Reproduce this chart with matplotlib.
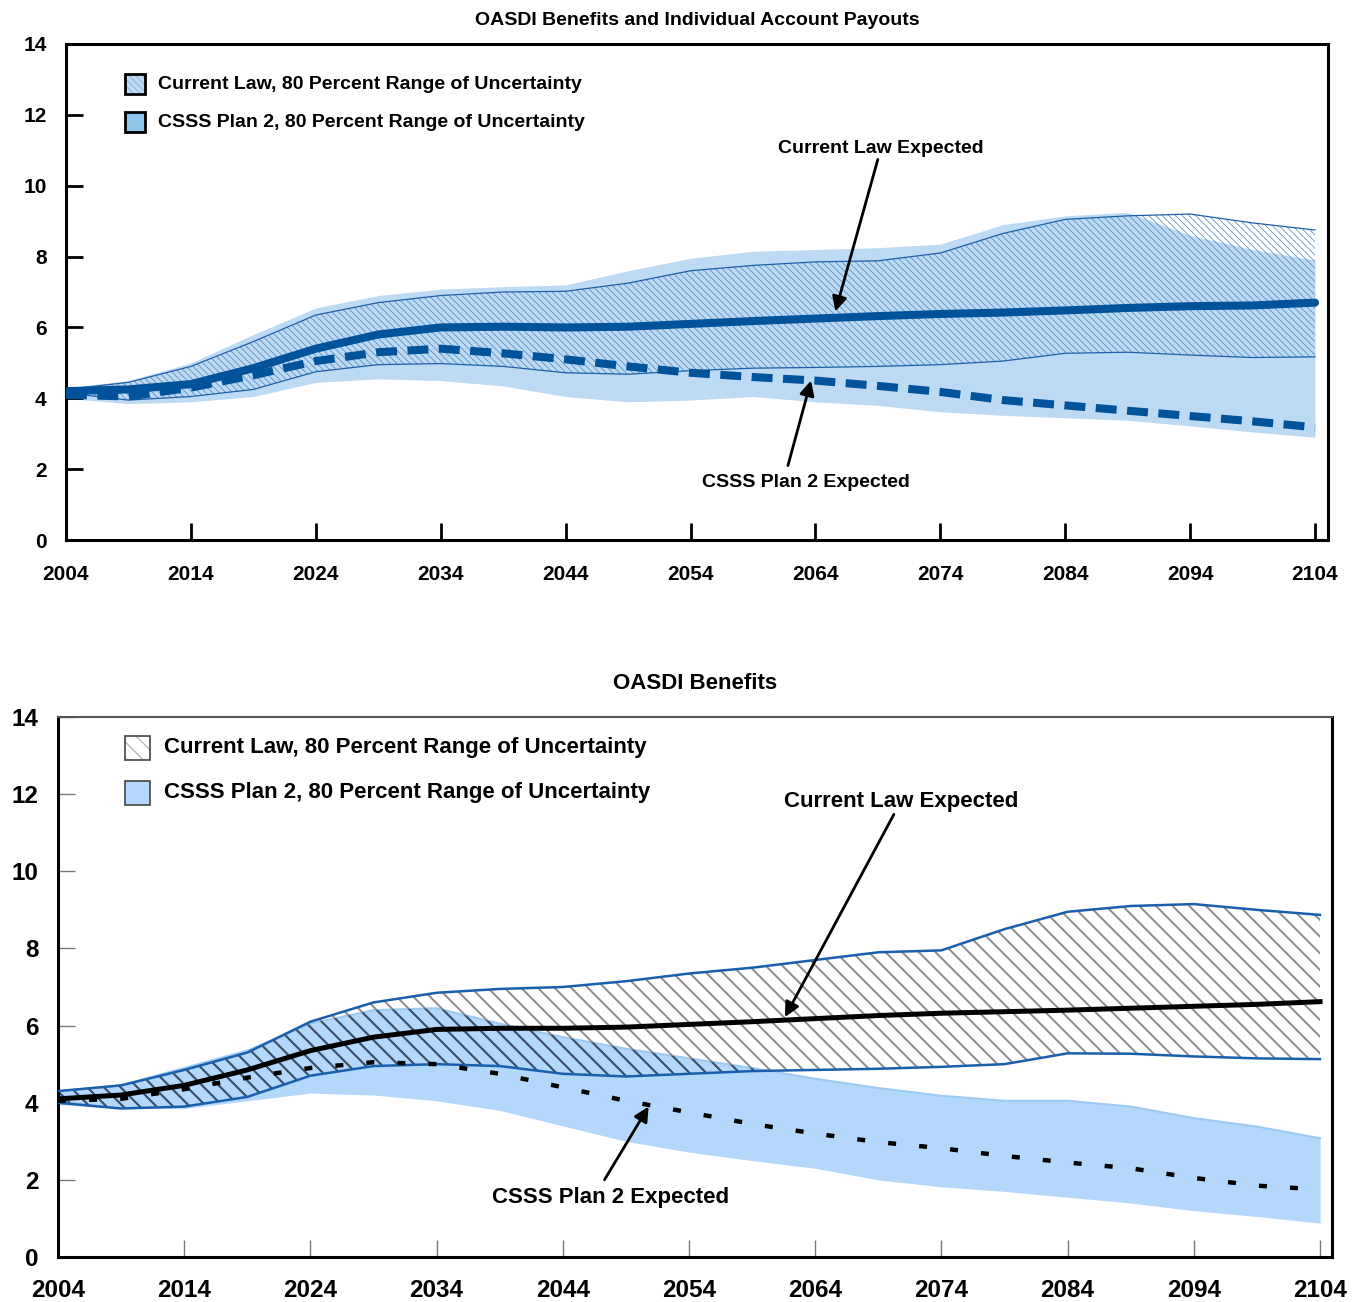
import numpy as np
import matplotlib
matplotlib.use("Agg")
import matplotlib.pyplot as plt
from matplotlib.patches import Rectangle

plt.rcParams['font.family'] = ['Liberation Sans', 'DejaVu Sans']
plt.rcParams['font.weight'] = 'bold'

years = np.arange(2004, 2105, 5)
xticks = np.arange(2004, 2105, 10)
yticks = np.arange(0, 15, 2)

# --- OASDI benefits and individual account payouts (percent) ---
top_cl_expected = [4.2, 4.25, 4.4, 4.85, 5.4, 5.8, 6.0, 6.02, 6.0, 6.02, 6.1,
                   6.18, 6.25, 6.32, 6.38, 6.42, 6.48, 6.55, 6.6, 6.62, 6.7]
top_plan_expected = [4.1, 4.05, 4.3, 4.65, 5.05, 5.3, 5.4, 5.27, 5.1, 4.9, 4.72,
                     4.6, 4.5, 4.35, 4.18, 3.95, 3.8, 3.65, 3.5, 3.35, 3.18]
top_cl_hi = [4.25, 4.45, 4.9, 5.6, 6.35, 6.7, 6.9, 7.0, 7.02, 7.25, 7.6,
             7.75, 7.85, 7.88, 8.1, 8.65, 9.05, 9.15, 9.2, 8.95, 8.75]
top_cl_lo = [4.15, 3.95, 4.05, 4.25, 4.75, 4.95, 4.98, 4.9, 4.72, 4.68, 4.78,
             4.85, 4.87, 4.9, 4.95, 5.05, 5.27, 5.3, 5.22, 5.15, 5.17]
top_plan_hi = [4.3, 4.5, 5.0, 5.8, 6.55, 6.9, 7.08, 7.15, 7.2, 7.6, 7.95,
               8.15, 8.2, 8.25, 8.35, 8.9, 9.15, 9.25, 8.6, 8.2, 7.9]
top_plan_lo = [4.0, 3.85, 3.9, 4.05, 4.45, 4.55, 4.5, 4.35, 4.05, 3.9, 3.95,
               4.05, 3.9, 3.8, 3.62, 3.52, 3.45, 3.38, 3.22, 3.05, 2.9]

# --- OASDI benefits only (percent) ---
bot_cl_expected = [4.1, 4.2, 4.45, 4.85, 5.35, 5.7, 5.9, 5.93, 5.93, 5.96, 6.03,
                   6.1, 6.18, 6.26, 6.32, 6.36, 6.4, 6.45, 6.5, 6.55, 6.62]
bot_plan_expected = [4.05, 4.1, 4.35, 4.65, 4.9, 5.05, 5.0, 4.75, 4.4, 4.05, 3.75,
                     3.45, 3.2, 2.98, 2.82, 2.62, 2.45, 2.3, 2.05, 1.85, 1.75]
bot_cl_hi = [4.3, 4.45, 4.85, 5.3, 6.1, 6.6, 6.85, 6.95, 7.0, 7.15, 7.35,
             7.5, 7.7, 7.9, 7.95, 8.5, 8.95, 9.1, 9.15, 9.0, 8.87]
bot_cl_lo = [4.0, 3.85, 3.9, 4.15, 4.7, 4.95, 5.0, 4.95, 4.75, 4.68, 4.75,
             4.82, 4.85, 4.88, 4.93, 5.0, 5.28, 5.27, 5.2, 5.15, 5.13]
bot_plan_hi = [4.3, 4.45, 4.9, 5.35, 6.05, 6.4, 6.45, 6.05, 5.7, 5.4, 5.15,
               4.9, 4.62, 4.38, 4.18, 4.05, 4.05, 3.9, 3.6, 3.38, 3.08]
bot_plan_lo = [3.95, 3.85, 3.85, 4.05, 4.25, 4.2, 4.05, 3.8, 3.4, 3.0, 2.72,
               2.5, 2.3, 2.0, 1.82, 1.7, 1.55, 1.4, 1.2, 1.05, 0.88]

legend_labels = ["Current Law, 80 Percent Range of Uncertainty",
                 "CSSS Plan 2, 80 Percent Range of Uncertainty"]

fig = plt.figure(figsize=(13.54, 13.02), dpi=100)

# ---------------- top panel ----------------
ax1 = fig.add_axes([0.04874, 0.58525, 0.93206, 0.38096])
ax1.fill_between(years, top_plan_lo, top_plan_hi, color='#bcdaf3', lw=0, zorder=1)
with plt.rc_context({'hatch.linewidth': 0.5}):
    ax1.fill_between(years, top_cl_lo, top_cl_hi, facecolor='none',
                     edgecolor='#4a82bd', hatch='\\\\\\\\\\', lw=0, zorder=2)
ax1.plot(years, top_cl_hi, color='#1f5fa8', lw=0.9, zorder=3)
ax1.plot(years, top_cl_lo, color='#1f5fa8', lw=0.9, zorder=3)
ax1.plot(years, top_cl_expected, color='#00529b', lw=5.8,
         solid_capstyle='round', zorder=4)
ax1.plot(years, top_plan_expected, color='#00529b', lw=5.8,
         dashes=(2.6, 1.3), zorder=4)

ax1.set_xlim(2004, 2105.04)
ax1.set_ylim(0, 14)
ax1.set_xticks(xticks)
ax1.set_yticks(yticks)
for s in ax1.spines.values():
    s.set_linewidth(2.2)
ax1.tick_params(direction='in', length=12, width=2, labelsize=15)
ax1.tick_params(axis='x', pad=18)
ax1.tick_params(axis='y', pad=14)
ax1.set_title("OASDI Benefits and Individual Account Payouts",
              fontsize=14, fontweight='bold', pad=14)

# legend swatches
with plt.rc_context({'hatch.linewidth': 0.5}):
    ax1.add_patch(Rectangle((0.0468, 0.8992), 0.01585, 0.0403, transform=ax1.transAxes,
                            facecolor='#bcdaf3', edgecolor='#7fa9d4',
                            hatch='\\\\\\\\\\', lw=0, zorder=5))
ax1.add_patch(Rectangle((0.0468, 0.8992), 0.01585, 0.0403, transform=ax1.transAxes,
                        fill=False, edgecolor='black', lw=2, zorder=6))
ax1.add_patch(Rectangle((0.0468, 0.8226), 0.01585, 0.0403, transform=ax1.transAxes,
                        facecolor='#8ec5ea', edgecolor='black', lw=2, zorder=6))
ax1.text(0.0729, 0.919, legend_labels[0], transform=ax1.transAxes,
         fontsize=14, va='center', ha='left')
ax1.text(0.0729, 0.8427, legend_labels[1], transform=ax1.transAxes,
         fontsize=14, va='center', ha='left')

arrow = dict(arrowstyle='-|>', color='black', lw=2, mutation_scale=22,
             shrinkA=0, shrinkB=0)
ax1.annotate("Current Law Expected", xy=(2065.6, 6.45), xytext=(2069.25, 11.06),
             fontsize=14, ha='center', va='center', arrowprops=arrow, zorder=7)
ax1.annotate("", xy=(2063.65, 4.5), xytext=(2061.8, 2.1),
             arrowprops=arrow, zorder=7)
ax1.text(2063.25, 1.61, "CSSS Plan 2 Expected", fontsize=14, ha='center', va='center')

# ---------------- bottom panel ----------------
ax2 = fig.add_axes([0.04284, 0.03456, 0.94091, 0.41475])
ax2.fill_between(years, bot_plan_lo, bot_plan_hi, color='#b3d8fc', lw=0, zorder=1)
ax2.plot(years, bot_plan_hi, color='#9ccaf2', lw=1.5, zorder=1.5)
with plt.rc_context({'hatch.linewidth': 1.4}):
    ax2.fill_between(years, bot_cl_lo, bot_cl_hi, facecolor='none',
                     edgecolor='#8c8c8c', hatch='\\\\', lw=0, zorder=2)
    # darker stripes where the two ranges overlap
    ov_lo = np.maximum(bot_cl_lo, bot_plan_lo)
    ov_hi = np.minimum(bot_cl_hi, bot_plan_hi)
    ax2.fill_between(years, ov_lo, ov_hi, where=ov_hi > ov_lo, interpolate=True,
                     facecolor='none', edgecolor='#34506e', hatch='\\\\', lw=0,
                     zorder=2.5)
ax2.plot(years, bot_cl_hi, color='#1a5fad', lw=1.8, zorder=3)
ax2.plot(years, bot_cl_lo, color='#1a5fad', lw=1.8, zorder=3)
ax2.plot(years, bot_cl_expected, color='black', lw=3.6, zorder=4)
ax2.plot(years, bot_plan_expected, color='black', lw=3.2,
         dashes=(1.8, 5.2), zorder=4)

ax2.set_xlim(2004, 2104.95)
ax2.set_ylim(0, 14)
ax2.set_xticks(xticks)
ax2.set_yticks(yticks)
for name, s in ax2.spines.items():
    s.set_linewidth(2.2)
ax2.spines['top'].set_color('#555555')
ax2.spines['top'].set_linewidth(1.5)
ax2.tick_params(direction='in', length=12, width=1, color='#777777', labelsize=17.5)
ax2.tick_params(axis='x', pad=16)
ax2.tick_params(axis='y', pad=14)
ax2.set_title("OASDI Benefits", fontsize=16, fontweight='bold', pad=20)

with plt.rc_context({'hatch.linewidth': 1.0}):
    ax2.add_patch(Rectangle((0.0526, 0.9204), 0.0196, 0.0444, transform=ax2.transAxes,
                            facecolor='white', edgecolor='#bbbbbb', hatch='\\\\',
                            lw=0, zorder=5))
ax2.add_patch(Rectangle((0.0526, 0.9204), 0.0196, 0.0444, transform=ax2.transAxes,
                        fill=False, edgecolor='#444444', lw=1.2, zorder=6))
ax2.add_patch(Rectangle((0.0526, 0.837), 0.0196, 0.0444, transform=ax2.transAxes,
                        facecolor='#b3d8fc', edgecolor='#444444', lw=1.2, zorder=6))
ax2.text(0.0832, 0.9426, legend_labels[0], transform=ax2.transAxes,
         fontsize=16, va='center', ha='left')
ax2.text(0.0832, 0.8593, legend_labels[1], transform=ax2.transAxes,
         fontsize=16, va='center', ha='left')

ax2.annotate("Current Law Expected", xy=(2061.6, 6.22), xytext=(2070.8, 11.82),
             fontsize=16, ha='center', va='center', arrowprops=arrow, zorder=7)
ax2.annotate("", xy=(2050.8, 3.9), xytext=(2047.3, 2.0),
             arrowprops=arrow, zorder=7)
ax2.text(2047.8, 1.53, "CSSS Plan 2 Expected", fontsize=16, ha='center', va='center')

fig.savefig("out.png", dpi=100)
